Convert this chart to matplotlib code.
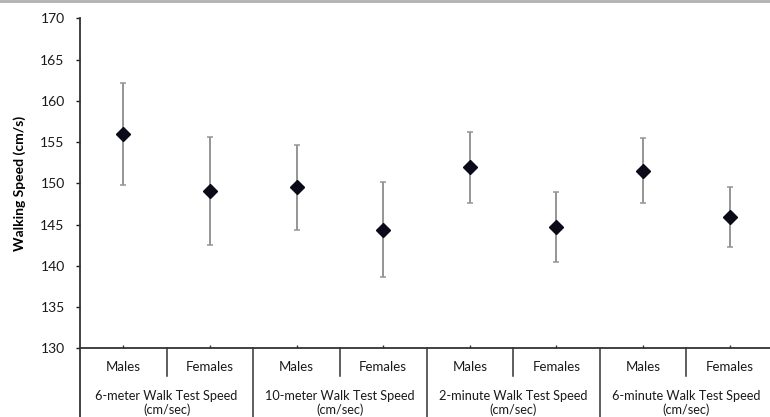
import matplotlib.pyplot as plt
import matplotlib.transforms as mtransforms
import matplotlib.lines as mlines

sexes = ['Males', 'Females', 'Males', 'Females', 'Males', 'Females', 'Males', 'Females']
tests = ['6-meter Walk Test Speed\n(cm/sec)', '10-meter Walk Test Speed\n(cm/sec)',
         '2-minute Walk Test Speed\n(cm/sec)', '6-minute Walk Test Speed\n(cm/sec)']
means = [156.0, 149.05, 149.5, 144.4, 151.95, 144.7, 151.55, 145.95]
sds = [6.2, 6.55, 5.2, 5.8, 4.3, 4.27, 3.95, 3.65]

plt.rcParams['font.family'] = ['Lato', 'DejaVu Sans']

fig = plt.figure(figsize=(7.7, 4.17), dpi=100)
ax = fig.add_axes([80 / 770, (417 - 348.3) / 417, 693 / 770, 330 / 417])

xs = list(range(len(means)))
ax.errorbar(xs, means, yerr=sds, fmt='none', ecolor='#959595', elinewidth=1.4,
            capsize=2.5, capthick=1.1, zorder=2)
ax.plot(xs, means, linestyle='none', marker='D', markersize=7.5, color='#0a0a18', zorder=3)

ax.set_xlim(-0.5, len(means) - 0.5)
ax.set_ylim(130, 170)
ax.set_yticks(range(130, 171, 5))
ax.tick_params(axis='y', direction='out', length=3, width=1, labelsize=10, colors='#1a1a1a', pad=8)
ax.set_xticks(xs)
ax.set_xticklabels([])
ax.tick_params(axis='x', direction='in', length=2, width=1, color='#333333')

for side in ['top', 'right']:
    ax.spines[side].set_visible(False)
ax.spines['left'].set_color('#333333')
ax.spines['left'].set_linewidth(1.3)
ax.spines['bottom'].set_color('#333333')
ax.spines['bottom'].set_linewidth(1.3)

ax.set_ylabel('Walking Speed (cm/s)', fontsize=10, fontweight='bold', labelpad=10)

# category table below the axis
trans = mtransforms.blended_transform_factory(ax.transData, ax.transAxes)
y_short = (348.3 - 376) / 330
y_long = (348.3 - 420) / 330
ax.add_line(mlines.Line2D([-0.5, -0.5], [0, y_long], transform=trans, color='#333333',
                          lw=1.3, clip_on=False))
for i in range(len(means) - 1):
    xpos = i + 0.5
    yend = y_long if i % 2 == 1 else y_short
    ax.add_line(mlines.Line2D([xpos, xpos], [0, yend], transform=trans, color='#333333',
                              lw=1.1, clip_on=False))

for i, label in enumerate(sexes):
    ax.text(i, (348.3 - 367) / 330, label, transform=trans, ha='center', va='center',
            fontsize=9.5, color='#1a1a1a')

for j, label in enumerate(tests):
    ax.text(2 * j + 0.5, (348.3 - 403) / 330, label, transform=trans, ha='center',
            va='center', fontsize=9.2, color='#1a1a1a', linespacing=1.15)

# thin gray border at top of image
fig.add_artist(mlines.Line2D([0, 1], [0.998, 0.998], transform=fig.transFigure,
                             color='#b0b0b0', lw=2))

plt.savefig('out.png', dpi=100)
